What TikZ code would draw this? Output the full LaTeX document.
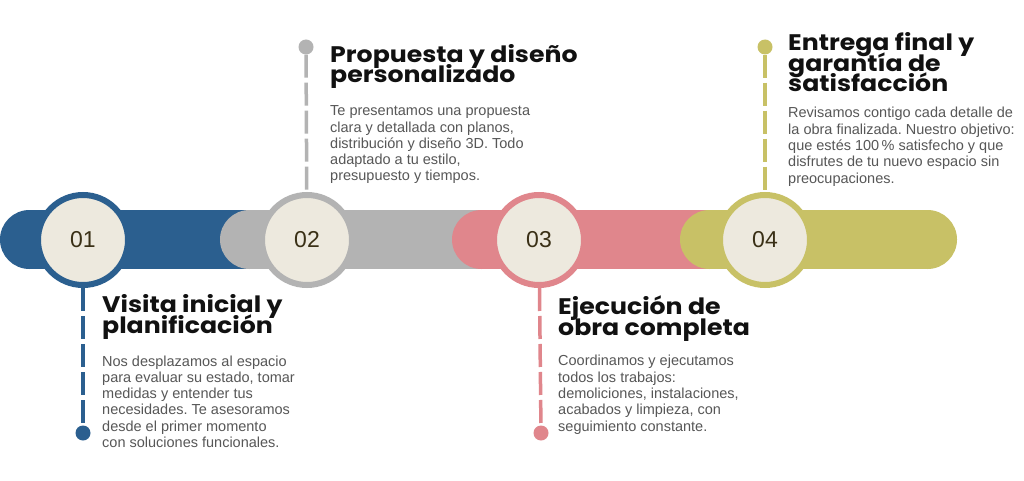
\documentclass[tikz,border=0pt]{standalone}
\usepackage{fontspec}
\newfontfamily\headfont{Poppins}[FakeStretch=1.12]
\newfontfamily\bodyfont{Liberation Sans}
\newfontfamily\numfont{Liberation Sans}
\frenchspacing
\newcommand\tightlines{\lineskiplimit=-100pt\relax\lineskip=0pt\relax}
\definecolor{cblue}{HTML}{2B5F8F}
\definecolor{cgrey}{HTML}{B3B3B3}
\definecolor{cpink}{HTML}{E0868C}
\definecolor{colive}{HTML}{C8C166}
\definecolor{ccream}{HTML}{EDE9DE}
\definecolor{cnum}{HTML}{3A3016}
\definecolor{chead}{HTML}{111111}
\definecolor{cbody}{HTML}{575757}
\tikzset{
  x=1pt, y=-1pt,
  stepcircle/.style={circle, minimum size=90pt, inner sep=0pt, fill=ccream, line width=6pt,
    font=\numfont\fontsize{23}{23}\selectfont, text=cnum},
  enddot/.style={circle, minimum size=15pt, inner sep=0pt},
  heading/.style={anchor=base west, align=left, inner sep=0pt, text=chead,
    font=\headfont\bfseries\fontsize{22.5}{20.5}\selectfont\tightlines},
  bodytext/.style={anchor=base west, align=left, inner sep=0pt, text=cbody,
    font=\bodyfont\fontsize{14.5}{16.3}\selectfont\tightlines},
  dashline/.style={line width=3.5pt, dash pattern=on 23pt off 5pt},
}
\begin{document}
\begin{tikzpicture}
\useasboundingbox[fill=white] (0,0) rectangle (1024,481);
% bars
\fill[cblue] (29.5,210) rectangle (262,269);
\fill[cblue] (29.5,239.5) circle[radius=29.5];
\fill[cgrey] (249.5,210) rectangle (490,269);
\fill[cgrey] (249.5,239.5) circle[radius=29.5];
\fill[cpink] (481.5,210) rectangle (720,269);
\fill[cpink] (481.5,239.5) circle[radius=29.5];
\fill[colive] (709.5,210) rectangle (927.5,269);
\fill[colive] (709.5,239.5) circle[radius=29.5];
\fill[colive] (927.5,239.5) circle[radius=29.5];
% dots
\node[enddot, fill=cblue] (d1) at (83,433) {};
\node[enddot, fill=cgrey] (d2) at (306,47) {};
\node[enddot, fill=cpink] (d3) at (541,433) {};
\node[enddot, fill=colive] (d4) at (765,47) {};
% step circles
\node[stepcircle, draw=cblue] (c1) at (83,240) {01};
\node[stepcircle, draw=cgrey] (c2) at (307,240) {02};
\node[stepcircle, draw=cpink] (c3) at (539,240) {03};
\node[stepcircle, draw=colive] (c4) at (765,240) {04};
% connectors
\draw[dashline, cblue] (c1) -- (d1);
\draw[dashline, cgrey] (d2) -- (c2);
\draw[dashline, cpink] (c3) -- (d3);
\draw[dashline, colive] (d4) -- (c4);
% texts (anchor = baseline of last line)
\node[heading] (h1) at (102,333) {Visita inicial y\\planificación};
\node[bodytext] (b1) at (102,447.5) {Nos desplazamos al espacio\\para evaluar su estado, tomar\\medidas y entender tus\\necesidades. Te asesoramos\\desde el primer momento\\con soluciones funcionales.};
\node[heading] (h2) at (330,83) {Propuesta y diseño\\personalizado};
\node[bodytext] (b2) at (330,181) {Te presentamos una propuesta\\clara y detallada con planos,\\distribución y diseño 3D. Todo\\adaptado a tu estilo,\\presupuesto y tiempos.};
\node[heading] (h3) at (558,335) {Ejecución de\\obra completa};
\node[bodytext] (b3) at (558,431) {Coordinamos y ejecutamos\\todos los trabajos:\\demoliciones, instalaciones,\\acabados y limpieza, con\\seguimiento constante.};
\node[heading] (h4) at (788,92) {Entrega final y\\garantía de\\satisfacción};
\node[bodytext] (b4) at (788,183) {Revisamos contigo cada detalle de\\la obra finalizada. Nuestro objetivo:\\que estés 100\,\% satisfecho y que\\disfrutes de tu nuevo espacio sin\\preocupaciones.};
\end{tikzpicture}
\end{document}
